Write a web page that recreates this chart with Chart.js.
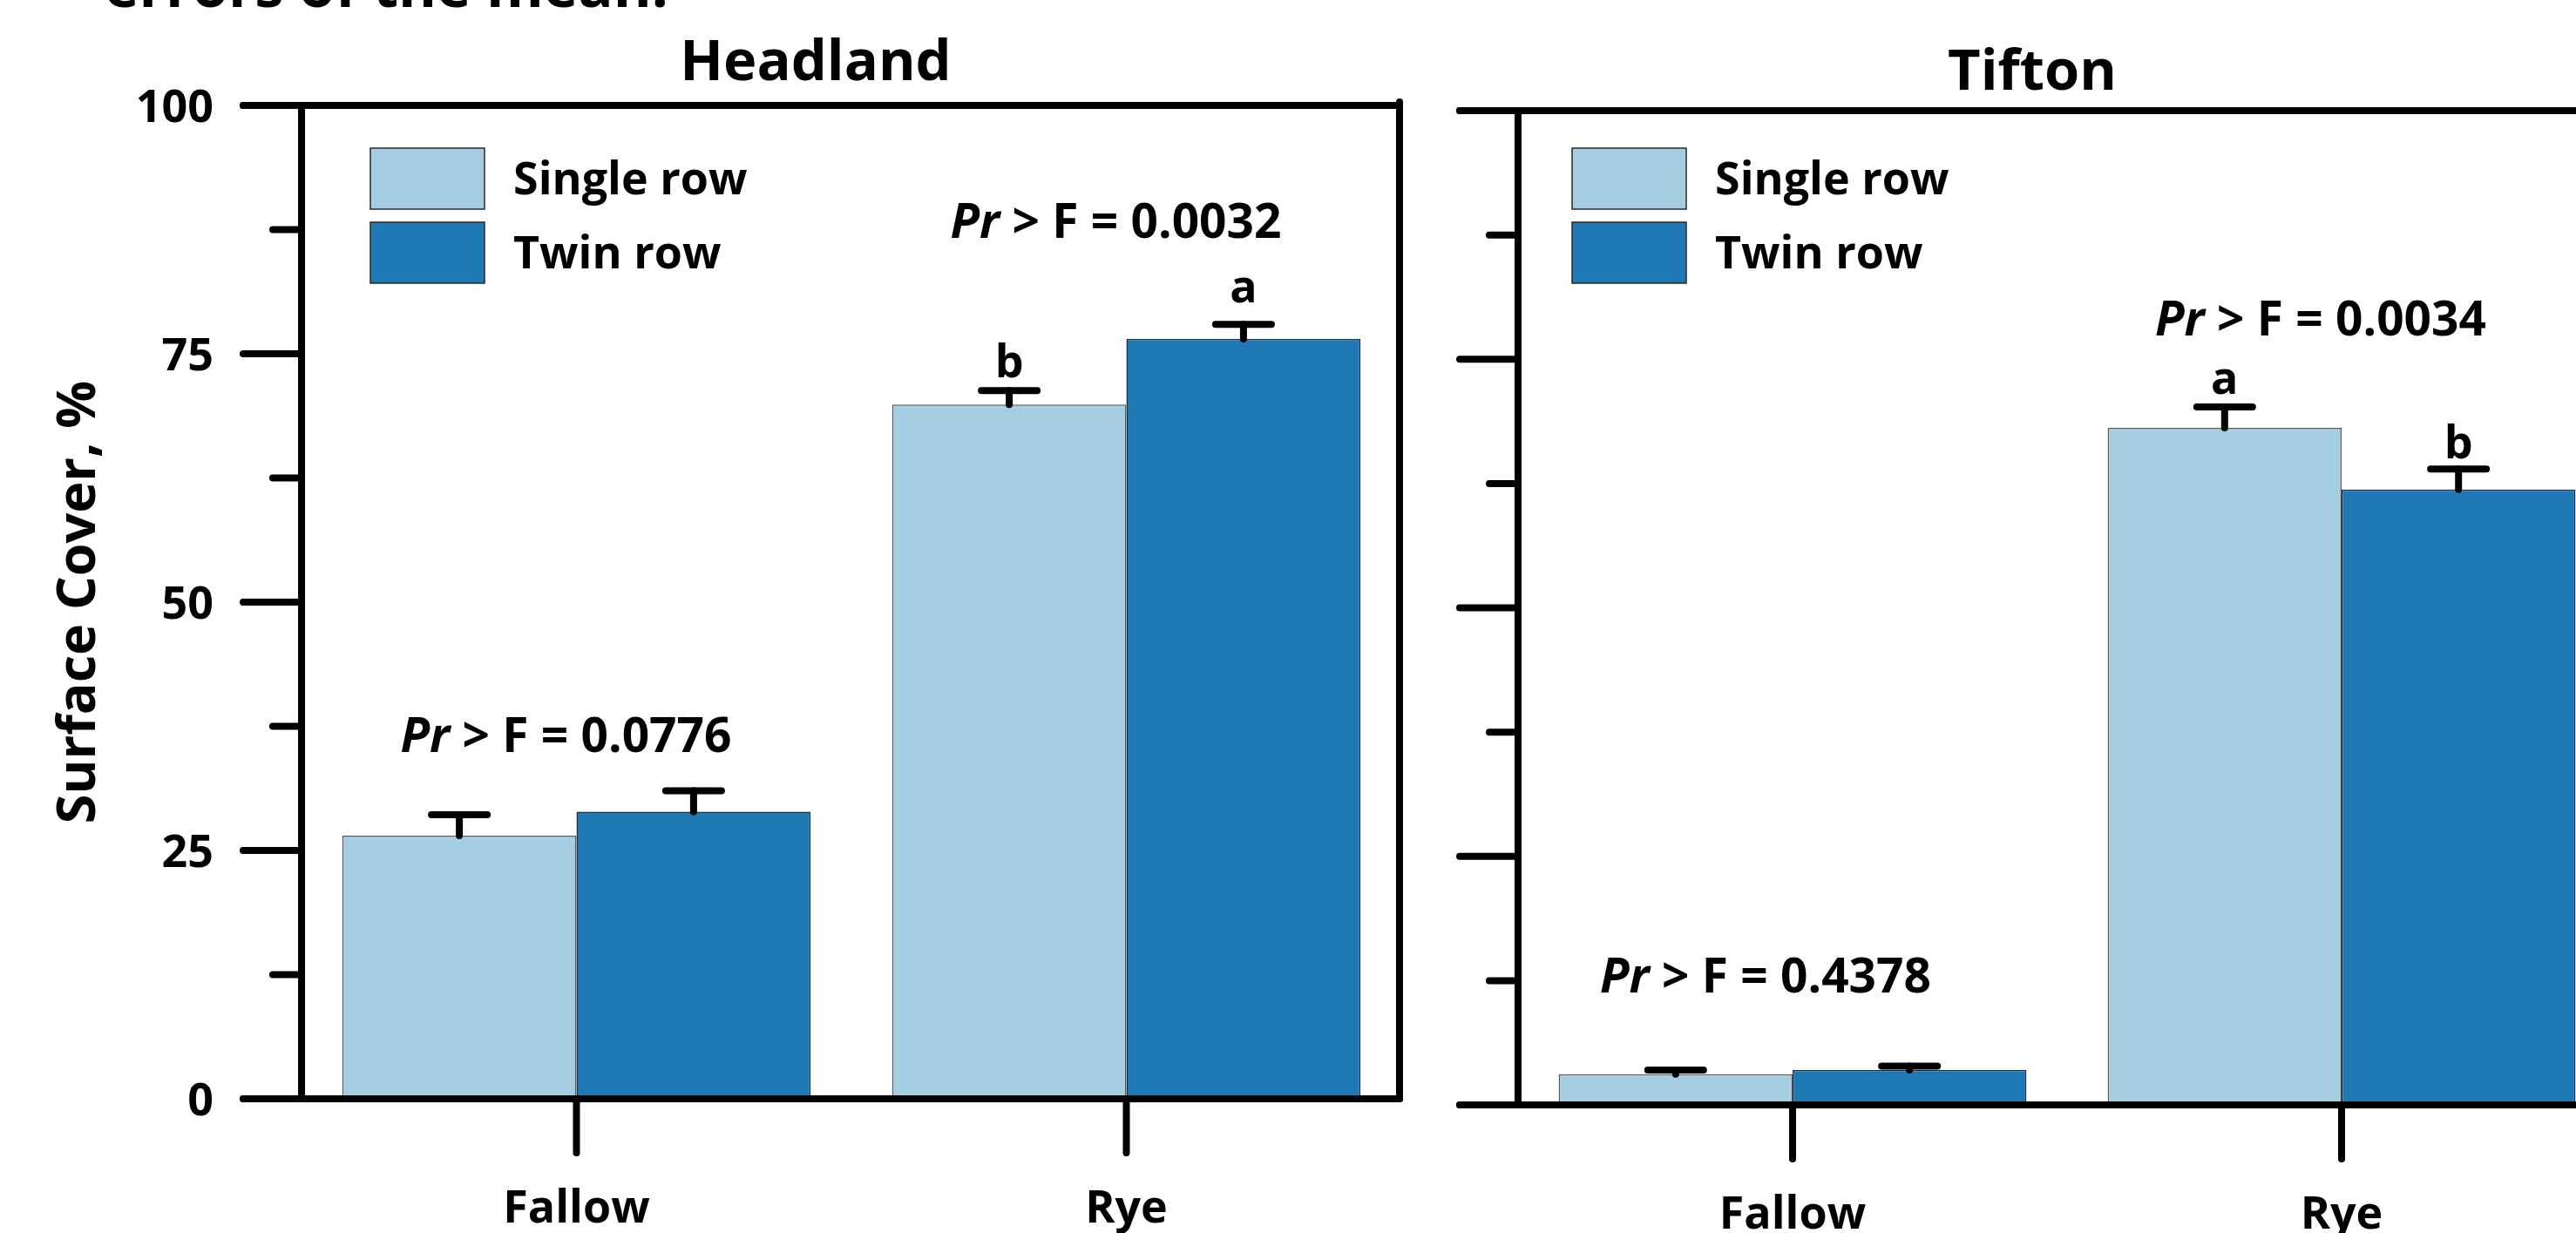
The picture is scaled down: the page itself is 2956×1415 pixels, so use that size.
<!DOCTYPE html>
<html>
<head>
<meta charset="utf-8">
<script src="https://cdn.jsdelivr.net/npm/chart.js@4/dist/chart.umd.min.js"></script>
<style>
html,body{margin:0;padding:0;width:2956px;height:1415px;overflow:hidden;background:#fff;}
#cap{position:absolute;left:120px;top:-51px;font:bold 67px "Open Sans";line-height:1;color:#000;white-space:nowrap;}
.wrap{position:absolute;top:0;}
</style>
</head>
<body>
<div id="cap">errors of the mean.</div>
<div class="wrap" style="left:0;width:1660px;height:1415px;"><canvas id="c1" width="1660" height="1415"></canvas></div>
<div class="wrap" style="left:1660px;width:1360px;height:1415px;"><canvas id="c2" width="1360" height="1415"></canvas></div>
<script>
// ---------------- data ----------------
const categories = ['Fallow', 'Rye'];
const seriesNames = ['Single row', 'Twin row'];
const yAxisTitle = 'Surface Cover, %';
const panelTitles = ['Headland', 'Tifton'];

const headlandSingle = [26.5, 69.9];
const headlandTwin = [28.9, 76.5];
const headlandSingleSE = [2.1, 1.4];
const headlandTwinSE = [2.1, 1.45];
const headlandSingleLetters = ['', 'b'];
const headlandTwinLetters = ['', 'a'];
const headlandPr = ['0.0776', '0.0032'];

const tiftonSingle = [3.1, 68.1];
const tiftonTwin = [3.5, 61.9];
const tiftonSingleSE = [0.4, 2.1];
const tiftonTwinSE = [0.4, 2.05];
const tiftonSingleLetters = ['', 'a'];
const tiftonTwinLetters = ['', 'b'];
const tiftonPr = ['0.4378', '0.0034'];

const yMin = 0, yMax = 100, yStep = 12.5, yLabelStep = 25;

// ---------------- styles ----------------
const FONT = '"Open Sans"';
const colors = ['#A6CEE3', '#1F78B4'];
const borders = ['#5a5a5a', '#1c2f40'];
Chart.defaults.font.family = FONT;
Chart.defaults.color = '#000';

function line(ctx, x1, y1, x2, y2) {
  ctx.beginPath(); ctx.moveTo(x1, y1); ctx.lineTo(x2, y2); ctx.stroke();
}

const decorPlugin = {
  id: 'decor',
  afterDraw(chart, args, o) {
    const ctx = chart.ctx, a = chart.chartArea, x = chart.scales.x, y = chart.scales.y;
    ctx.save();
    ctx.strokeStyle = '#000';
    ctx.fillStyle = '#000';
    ctx.lineWidth = 8;
    ctx.lineCap = 'round';
    const frameRight = o.frameRight === null ? chart.width + 20 : a.right + o.frameRight;
    // y ticks + labels
    ctx.font = 'bold 52px ' + FONT;
    ctx.textBaseline = 'alphabetic';
    y.ticks.forEach(t => {
      const py = y.getPixelForValue(t.value);
      const major = (t.value % yLabelStep === 0);
      const len = major ? 67 : 33;
      line(ctx, a.left - len, py, a.left, py);
      if (major && o.yLabels) {
        ctx.textAlign = 'right';
        ctx.fillText(String(t.value), a.left - 101, py + 18.5);
      }
    });
    // top/bottom frame lines
    line(ctx, a.left - 67, y.getPixelForValue(yMax), frameRight, y.getPixelForValue(yMax));
    line(ctx, a.left - 67, y.getPixelForValue(yMin), frameRight, y.getPixelForValue(yMin));
    // axis line
    ctx.lineCap = 'butt';
    line(ctx, a.left, a.top - 4, a.left, a.bottom + 4);
    ctx.lineCap = 'round';
    if (o.frameRight !== null) line(ctx, frameRight, a.top - 4, frameRight, a.bottom);
    // category ticks + labels
    ctx.textAlign = 'center';
    x.ticks.forEach((t, i) => {
      const px = x.getPixelForTick(i);
      line(ctx, px, a.bottom, px, a.bottom + 62);
      ctx.fillText(chart.data.labels[i], px, a.bottom + 142);
    });
    // error bars + letters
    chart.data.datasets.forEach((ds, d) => {
      const meta = chart.getDatasetMeta(d);
      meta.data.forEach((bar, i) => {
        const v = ds.data[i], se = ds.se[i];
        const yb = y.getPixelForValue(v), yt = y.getPixelForValue(v + se);
        ctx.lineWidth = 8;
        line(ctx, bar.x, yb, bar.x, yt);
        line(ctx, bar.x - 32, yt, bar.x + 32, yt);
        if (ds.letters[i]) ctx.fillText(ds.letters[i], bar.x, yt - o.letterLift[d]);
      });
    });
    // Pr > F annotations
    const PF = 55;
    o.pr.forEach((p, i) => {
      let top = Infinity;
      chart.data.datasets.forEach(ds => {
        top = Math.min(top, y.getPixelForValue(ds.data[i] + ds.se[i]));
      });
      const base = top - o.prOffset[i];
      const cx = x.getPixelForTick(i) + o.prDx[i];
      ctx.font = 'italic bold ' + PF + 'px ' + FONT;
      const w1 = ctx.measureText('Pr').width;
      ctx.font = 'bold ' + PF + 'px ' + FONT;
      const rest = ' > F = ' + p;
      const w2 = ctx.measureText(rest).width;
      const sx = cx - (w1 + w2) / 2;
      ctx.textAlign = 'left';
      ctx.font = 'italic bold ' + PF + 'px ' + FONT;
      ctx.fillText('Pr', sx, base);
      ctx.font = 'bold ' + PF + 'px ' + FONT;
      ctx.fillText(rest, sx + w1, base);
    });
    // legend
    ctx.textAlign = 'left';
    chart.data.datasets.forEach((ds, d) => {
      const bx = a.left + o.legendDx, by = 170 + d * 85;
      ctx.fillStyle = ds.backgroundColor;
      ctx.fillRect(bx, by, 131, 70);
      ctx.lineWidth = 1.5;
      ctx.strokeStyle = '#2a2a2a';
      ctx.strokeRect(bx, by, 131, 70);
      ctx.fillStyle = '#000';
      ctx.font = 'bold 52px ' + FONT;
      ctx.fillText(ds.label, bx + 131 + 33, by + 35 + 18);
    });
    // panel title
    ctx.font = 'bold 65px ' + FONT;
    ctx.textAlign = 'center';
    ctx.fillText(o.title, a.left + 590, o.titleBase);
    ctx.restore();
  }
};

function makeChart(id, single, twin, sSE, tSE, sL, tL, pr, cfg) {
  const chart = new Chart(document.getElementById(id), {
    type: 'bar',
    data: {
      labels: categories,
      datasets: [
        { label: seriesNames[0], data: single, se: sSE, letters: sL,
          backgroundColor: colors[0], borderColor: borders[0], borderWidth: 1.5 },
        { label: seriesNames[1], data: twin, se: tSE, letters: tL,
          backgroundColor: colors[1], borderColor: borders[1], borderWidth: 1.5 }
      ]
    },
    options: {
      responsive: false,
      animation: false,
      devicePixelRatio: 1,
      layout: { autoPadding: false, padding: { top: cfg.top, right: cfg.right, left: 0, bottom: 0 } },
      datasets: { bar: { categoryPercentage: 0.852, barPercentage: 1.0 } },
      plugins: {
        legend: { display: false },
        tooltip: { enabled: false },
        decor: { frameRight: cfg.frameRight, pr: pr, prOffset: cfg.prOffset, prDx: cfg.prDx,
                 legendDx: cfg.legendDx, title: cfg.title, titleBase: cfg.titleBase,
                 yLabels: cfg.yLabels, letterLift: cfg.letterLift }
      },
      scales: {
        x: {
          grid: { display: false, drawTicks: false },
          border: { display: false },
          ticks: { display: false },
          afterFit: s => { s.height = cfg.xHeight; }
        },
        y: {
          min: yMin, max: yMax,
          grid: { display: false, drawTicks: false },
          border: { display: false },
          ticks: { display: false, stepSize: yStep },
          title: cfg.yLabels ? { display: true, text: yAxisTitle, color: '#000',
                  font: { size: 61, weight: 'bold' }, padding: { top: 55, bottom: 0 } } : { display: false },
          afterFit: s => { s.width = cfg.yWidth; }
        }
      }
    },
    plugins: [decorPlugin]
  });
  const dt = cfg.top - chart.chartArea.top;
  if (Math.abs(dt) > 0.5) {
    chart.config.options.layout.padding.top = cfg.top + dt;
    chart.update('none');
  }
  return chart;
}

makeChart('c1', headlandSingle, headlandTwin, headlandSingleSE, headlandTwinSE,
  headlandSingleLetters, headlandTwinLetters, headlandPr,
  { top: 121, right: 52, xHeight: 154, yWidth: 346, yLabels: true, frameRight: -2,
    prOffset: [45, 99], prDx: [-12, -12], legendDx: 79, title: panelTitles[0], titleBase: 92,
    letterLift: [15, 25] });
makeChart('c2', tiftonSingle, tiftonTwin, tiftonSingleSE, tiftonTwinSE,
  tiftonSingleLetters, tiftonTwinLetters, tiftonPr,
  { top: 127, right: 18, xHeight: 147, yWidth: 82, yLabels: false, frameRight: null,
    prOffset: [85, 82], prDx: [-31, -24], legendDx: 62, title: panelTitles[1], titleBase: 103,
    letterLift: [15, 12] });
</script>
</body>
</html>
